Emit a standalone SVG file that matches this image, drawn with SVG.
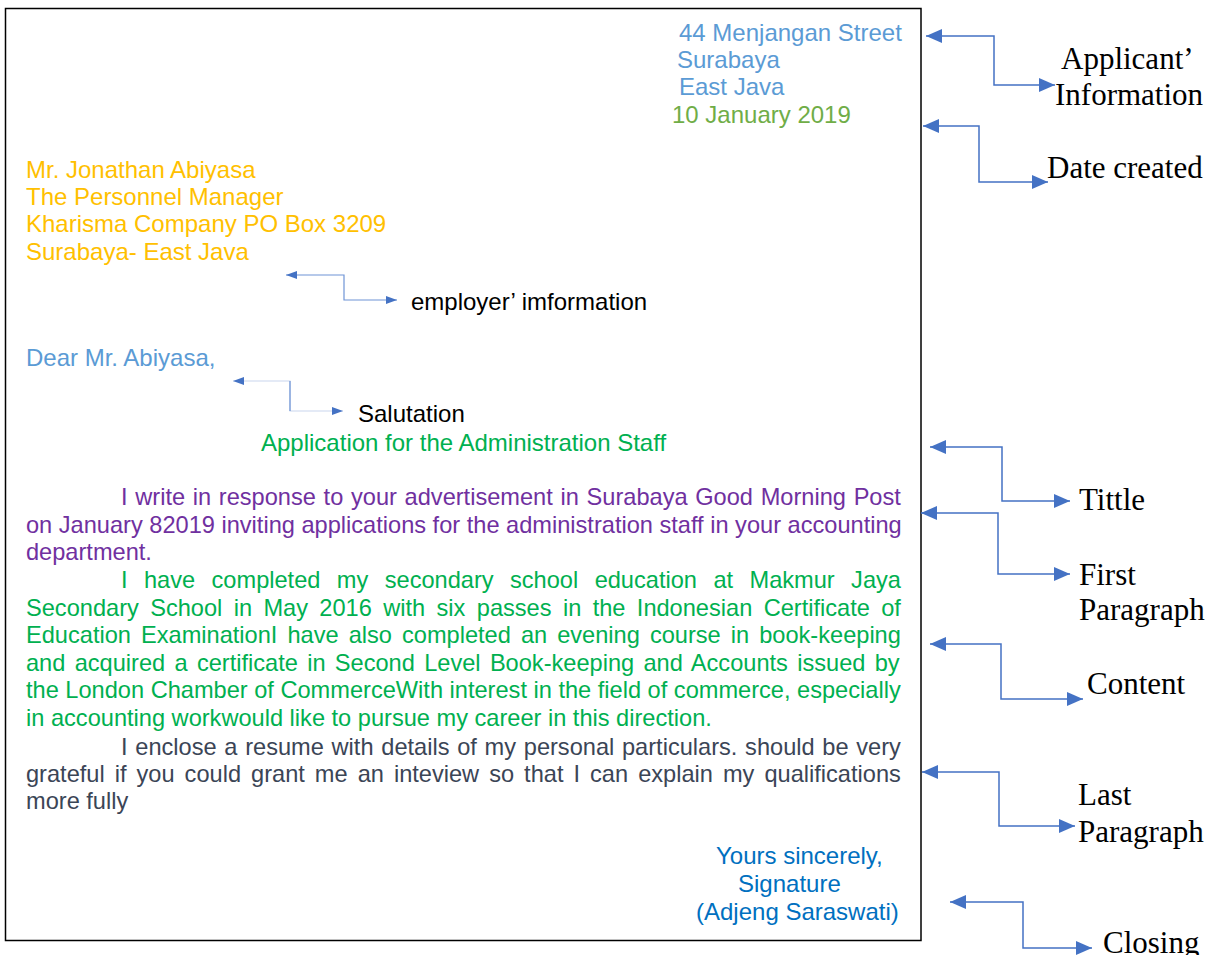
<svg xmlns="http://www.w3.org/2000/svg" width="1218" height="955" viewBox="0 0 1218 955">
<style>
.s{font-family:"Liberation Sans",Arial,sans-serif;font-size:24px}
.p{font-family:"Liberation Sans",Arial,sans-serif;font-size:23.6px}
.lbl{font-family:"Liberation Serif","Times New Roman",serif;font-size:31px;fill:#000}
.addr{fill:#5B9BD5}
.date{fill:#70AD47}
.emp{fill:#FFC000}
.grn{fill:#00B050}
.pur{fill:#7030A0}
.gry{fill:#3B4556}
.cls{fill:#0070C0}
.con{fill:none;stroke:#4472C4;stroke-width:1.5}
.sm{fill:none;stroke:#6F94D6;stroke-width:1.2}
</style>
<defs>
<marker id="ah" viewBox="0 0 16 14" refX="16" refY="7" markerWidth="16" markerHeight="14" orient="auto-start-reverse" markerUnits="userSpaceOnUse"><path d="M0,0 L16,7 L0,14 z" fill="#4472C4"/></marker>
<marker id="as" viewBox="0 0 11 8" refX="11" refY="4" markerWidth="11" markerHeight="8" orient="auto-start-reverse" markerUnits="userSpaceOnUse"><path d="M0,0 L11,4 L0,8 z" fill="#4472C4"/></marker>
</defs>
<rect x="0" y="0" width="1218" height="955" fill="#fff"/>
<rect id="letter-box" x="5.5" y="8.5" width="915.5" height="932" fill="none" stroke="#000" stroke-width="1.5"/>

<g id="applicant-address">
<text class="s addr" x="679" y="41">44 Menjangan Street</text>
<text class="s addr" x="677" y="68">Surabaya</text>
<text class="s addr" x="679" y="95">East Java</text>
</g>
<g id="date"><text class="s date" x="672" y="123">10 January 2019</text></g>

<g id="employer">
<text class="s emp" x="26" y="178">Mr. Jonathan Abiyasa</text>
<text class="s emp" x="26" y="205">The Personnel Manager</text>
<text class="s emp" x="26" y="232">Kharisma Company PO Box 3209</text>
<text class="s emp" x="26" y="260">Surabaya- East Java</text>
</g>
<g id="employer-label"><text class="s" x="411" y="310" fill="#000">employer’ imformation</text></g>

<g id="salutation"><text class="s addr" x="26" y="366">Dear Mr. Abiyasa,</text></g>
<g id="salutation-label"><text class="s" x="358" y="422" fill="#000">Salutation</text></g>

<g id="title"><text class="s grn" x="261" y="451">Application for the Administration Staff</text></g>

<g id="first-paragraph">
<text class="p pur" x="121" y="505" word-spacing="1.15">I write in response to your advertisement in Surabaya Good Morning Post</text>
<text class="p pur" x="26" y="533">on January 82019 inviting applications for the administration staff in your accounting</text>
<text class="p pur" x="26" y="560">department.</text>
</g>

<g id="content">
<text class="p grn" x="121" y="588" word-spacing="9.87">I have completed my secondary school education at Makmur Jaya</text>
<text class="p grn" x="26" y="616" word-spacing="4.82">Secondary School in May 2016 with six passes in the Indonesian Certificate of</text>
<text class="p grn" x="26" y="643" word-spacing="3.5">Education ExaminationI have also completed an evening course in book-keeping</text>
<text class="p grn" x="26" y="671" word-spacing="2.75">and acquired a certificate in Second Level Book-keeping and Accounts issued by</text>
<text class="p grn" x="26" y="698">the London Chamber of CommerceWith interest in the field of commerce, especially</text>
<text class="p grn" x="26" y="726">in accounting workwould like to pursue my career in this direction.</text>
</g>

<g id="last-paragraph">
<text class="p gry" x="121" y="755" word-spacing="1.17">I enclose a resume with details of my personal particulars. should be very</text>
<text class="p gry" x="26" y="782" word-spacing="3.47">grateful if you could grant me an inteview so that I can explain my qualifications</text>
<text class="p gry" x="26" y="809">more fully</text>
</g>

<g id="closing">
<text class="s cls" x="716" y="864">Yours sincerely,</text>
<text class="s cls" x="738" y="892">Signature</text>
<text class="s cls" x="696" y="920">(Adjeng Saraswati)</text>
</g>

<g id="label-applicant"><text class="lbl" x="1061" y="69">Applicant’</text><text class="lbl" x="1055" y="105">Information</text></g>
<g id="label-date"><text class="lbl" x="1047" y="178">Date created</text></g>
<g id="label-title"><text class="lbl" x="1079" y="510">Tittle</text></g>
<g id="label-first"><text class="lbl" x="1079" y="585">First</text><text class="lbl" x="1079" y="620">Paragraph</text></g>
<g id="label-content"><text class="lbl" x="1087" y="694">Content</text></g>
<g id="label-last"><text class="lbl" x="1078" y="805">Last</text><text class="lbl" x="1078" y="842">Paragraph</text></g>
<g id="label-closing"><text class="lbl" x="1103" y="953">Closing</text></g>

<g id="connectors">
<polyline class="con" points="926,36 994,36 994,85 1055,85" marker-start="url(#ah)" marker-end="url(#ah)"/>
<polyline class="con" points="923,126 979,126 979,182 1048,182" marker-start="url(#ah)" marker-end="url(#ah)"/>
<polyline class="con" points="930,447 1002,447 1002,501 1070,501" marker-start="url(#ah)" marker-end="url(#ah)"/>
<polyline class="con" points="921,513 998,513 998,574 1070,574" marker-start="url(#ah)" marker-end="url(#ah)"/>
<polyline class="con" points="930,644 1001,644 1001,699 1083,699" marker-start="url(#ah)" marker-end="url(#ah)"/>
<polyline class="con" points="922,772 999,772 999,826 1075,826" marker-start="url(#ah)" marker-end="url(#ah)"/>
<polyline class="con" points="950,902 1023,902 1023,948 1092,948" marker-start="url(#ah)" marker-end="url(#ah)"/>
<polyline class="sm" points="286,275 344,275 344,300 397,300" marker-start="url(#as)" marker-end="url(#as)"/>
<polyline class="sm" style="stroke:#C9D6EE" points="233,381 290,381 290,411 343,411" marker-start="url(#as)" marker-end="url(#as)"/>
<line class="sm" x1="290" y1="381" x2="290" y2="411"/>
</g>
</svg>
